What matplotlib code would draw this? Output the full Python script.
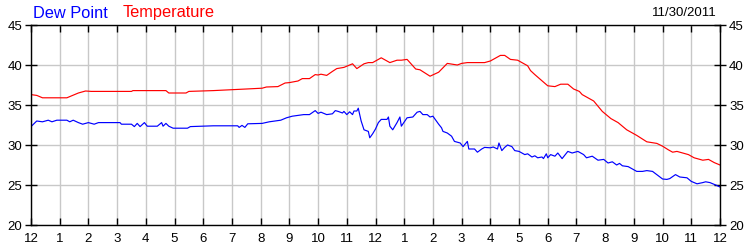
import matplotlib
matplotlib.use("Agg")
import matplotlib.pyplot as plt

# readings, hours after midnight
temp_hours = [0, 0.2, 0.4, 1.25, 1.65, 1.9, 2.1, 3.5, 3.55, 4.7,
              4.8, 5.4, 5.5, 6.35, 7.5, 8.05, 8.2, 8.6, 8.85, 9.0,
              9.3, 9.45, 9.7, 9.9, 10.0, 10.1, 10.3, 10.5, 10.65, 10.9,
              11.2, 11.35, 11.6, 11.75, 11.9, 12.2, 12.5, 12.75, 12.9, 13.1,
              13.4, 13.55, 13.9, 14.2, 14.5, 14.85, 15.0, 15.2, 15.8, 16.0,
              16.35, 16.5, 16.7, 16.95, 17.3, 17.4, 17.55, 18.0, 18.25, 18.45,
              18.7, 18.9, 19.1, 19.2, 19.6, 19.9, 20.2, 20.45, 20.75, 21.1,
              21.45, 21.8, 22.0, 22.2, 22.35, 22.5, 22.9, 23.1, 23.4, 23.6,
              23.8, 24.0]
temperature = [36.3, 36.2, 35.9, 35.9, 36.5, 36.75, 36.7, 36.7, 36.8, 36.8,
               36.5, 36.5, 36.7, 36.8, 37.0, 37.1, 37.25, 37.3, 37.75, 37.8,
               38.0, 38.3, 38.3, 38.8, 38.75, 38.85, 38.7, 39.2, 39.55, 39.7,
               40.15, 39.55, 40.15, 40.3, 40.3, 40.9, 40.3, 40.6, 40.6, 40.7,
               39.5, 39.4, 38.6, 39.1, 40.2, 40.0, 40.2, 40.3, 40.3, 40.5,
               41.2, 41.2, 40.7, 40.6, 39.9, 39.3, 38.8, 37.4, 37.3, 37.6,
               37.6, 37.0, 36.7, 36.3, 35.5, 34.2, 33.3, 32.8, 31.9, 31.2,
               30.4, 30.2, 29.85, 29.4, 29.1, 29.2, 28.8, 28.4, 28.1, 28.2,
               27.8, 27.5]

dew_hours = [0, 0.2, 0.4, 0.6, 0.73, 0.9, 1.25, 1.35, 1.47, 1.65,
             1.8, 2.0, 2.2, 2.35, 3.1, 3.15, 3.5, 3.6, 3.7, 3.8,
             3.95, 4.05, 4.4, 4.55, 4.6, 4.7, 4.8, 4.95, 5.45, 5.55,
             6.35, 7.2, 7.25, 7.35, 7.45, 7.55, 8.05, 8.3, 8.7, 8.9,
             9.1, 9.5, 9.7, 9.9, 10.0, 10.1, 10.3, 10.5, 10.6, 10.7,
             10.85, 10.9, 11.0, 11.1, 11.2, 11.25, 11.35, 11.4, 11.5, 11.6,
             11.75, 11.8, 11.9, 12.0, 12.1, 12.2, 12.4, 12.45, 12.5, 12.6,
             12.75, 12.85, 12.9, 13.1, 13.3, 13.45, 13.55, 13.65, 13.8, 13.9,
             14.0, 14.2, 14.3, 14.35, 14.5, 14.65, 14.75, 14.95, 15.05, 15.2,
             15.25, 15.45, 15.55, 15.7, 15.8, 16.0, 16.1, 16.25, 16.3, 16.4,
             16.5, 16.6, 16.75, 16.85, 17.0, 17.2, 17.3, 17.45, 17.55, 17.65,
             17.8, 17.85, 17.95, 18.0, 18.1, 18.25, 18.35, 18.5, 18.7, 18.85,
             19.05, 19.25, 19.35, 19.55, 19.75, 19.95, 20.1, 20.25, 20.4, 20.5,
             20.6, 20.8, 21.0, 21.1, 21.3, 21.45, 21.65, 21.8, 22.0, 22.15,
             22.25, 22.45, 22.6, 22.85, 23.0, 23.2, 23.4, 23.5, 23.65, 23.85,
             24.0]
dew_point = [32.3, 33.0, 32.9, 33.1, 32.9, 33.1, 33.1, 32.9, 33.1, 32.8,
             32.6, 32.8, 32.6, 32.8, 32.8, 32.6, 32.6, 32.3, 32.7, 32.3,
             32.8, 32.35, 32.35, 32.8, 32.35, 32.7, 32.35, 32.1, 32.1, 32.3,
             32.4, 32.4, 32.2, 32.45, 32.2, 32.65, 32.7, 32.9, 33.1, 33.4,
             33.6, 33.8, 33.8, 34.3, 33.95, 34.1, 33.8, 33.9, 34.3, 34.2,
             34.0, 34.2, 33.8, 34.15, 33.8, 34.25, 34.25, 34.6, 33.0, 31.9,
             31.7, 30.9, 31.4, 32.0, 32.8, 33.2, 33.2, 33.5, 32.35, 31.9,
             32.8, 33.5, 32.35, 33.4, 33.5, 34.1, 34.2, 33.8, 33.8, 33.5,
             33.6, 32.6, 32.15, 31.7, 31.5, 31.1, 30.45, 30.25, 29.8, 30.45,
             29.5, 29.5, 29.1, 29.5, 29.7, 29.65, 29.75, 29.5, 30.25, 29.3,
             29.7, 30.0, 29.8, 29.3, 29.2, 28.8, 28.9, 28.5, 28.65, 28.4,
             28.5, 28.3, 28.9, 28.4, 28.8, 28.6, 29.0, 28.3, 29.2, 29.0,
             29.2, 28.8, 28.4, 28.6, 28.1, 28.2, 27.75, 27.9, 27.5, 27.7,
             27.4, 27.3, 26.9, 26.7, 26.7, 26.8, 26.7, 26.3, 25.75, 25.7,
             25.8, 26.3, 26.0, 25.9, 25.45, 25.15, 25.3, 25.4, 25.3, 25.0,
             24.75]

hour_labels = ["12"] + [str(h) for h in range(1, 12)] + ["12"] + [str(h) for h in range(1, 12)] + ["12"]
y_ticks = [20, 25, 30, 35, 40, 45]
date_label = "11/30/2011"

plt.rcParams["font.family"] = ["Liberation Sans", "DejaVu Sans"]

fig = plt.figure(figsize=(7.5, 2.5), dpi=100)
ax = fig.add_axes([31 / 750, 0.1, 689 / 750, 0.8])

ax.plot(temp_hours, temperature, color="#ff0000", lw=0.85)
ax.plot(dew_hours, dew_point, color="#0000ff", lw=0.85)

ax.set_xlim(0, 24)
ax.set_ylim(20, 45)
ax.set_xticks(range(25))
ax.set_xticklabels(hour_labels)
ax.set_yticks(y_ticks)
ax.grid(True, color="#c8c8c8", lw=1)
ax.set_axisbelow(True)

ax.tick_params(axis="x", direction="in", length=5, width=1, top=True,
               labelsize=9.5, pad=6)
ax.tick_params(axis="y", direction="inout", length=9, width=1, right=True,
               labelright=True, labelsize=9.5, pad=2)
for s in ax.spines.values():
    s.set_linewidth(1)

# header: series names on the left, date on the right
fig.text(33 / 750, 1 - 13 / 250, "Dew Point", color="#0000ff", fontsize=11.8, va="center")
fig.text(123 / 750, 1 - 13 / 250, "Temperature", color="#ff0000", fontsize=11.8, va="center")
fig.text(717 / 750, 1 - 13 / 250, date_label, color="black", fontsize=9.5, va="center", ha="right")

fig.savefig("out.png", dpi=100)
